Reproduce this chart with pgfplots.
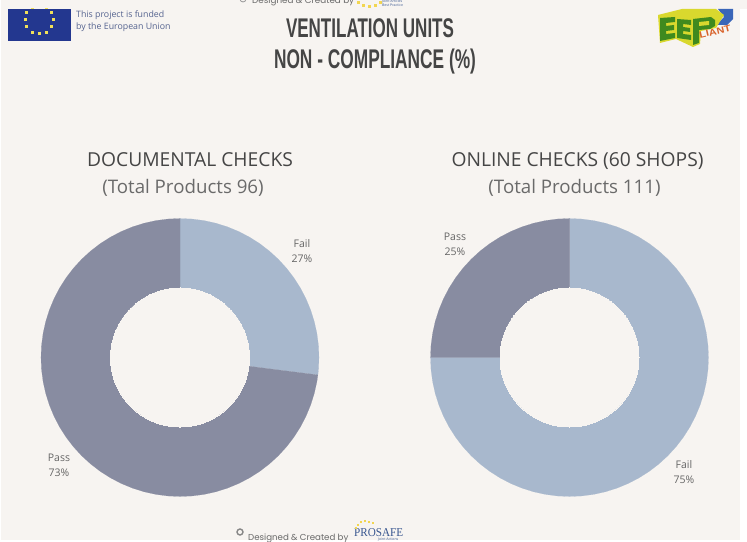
\documentclass[border=0pt]{standalone}
\usepackage{pgfplots}
\pgfplotsset{compat=1.18}
\usepgfplotslibrary{polar}
\usepackage{fontspec}
\usepackage{graphicx}
\setmainfont{Open Sans}
\newfontfamily\titlefont{Liberation Sans}
\newfontfamily\designfont{Poppins}
\newfontfamily\seriffont{Liberation Serif}
\usetikzlibrary{shapes.geometric}
\definecolor{bg}{HTML}{F7F4F1}
\definecolor{failc}{HTML}{A8B8CD}
\definecolor{passc}{HTML}{888CA1}
\definecolor{headc}{HTML}{454545}
\definecolor{subc}{HTML}{6A6A6A}
\definecolor{labc}{HTML}{666666}
\definecolor{euc}{HTML}{23378F}
\definecolor{star}{HTML}{F1E05A}
\definecolor{eutext}{HTML}{55638F}
\definecolor{prosafe}{HTML}{37558F}
\definecolor{logog}{HTML}{3F8A1E}
\definecolor{logoy}{HTML}{D9D82E}
\definecolor{logor}{HTML}{D9622B}
\definecolor{logob}{HTML}{3A66B8}
\newcommand{\px}[2]{({#1pt},{541pt-#2pt})}
\pgfplotsset{donut/.style={
  width=278pt,height=278pt,scale only axis,
  ymin=0,ymax=139,xmin=-180,xmax=180,hide axis,clip=false,anchor=center}}
\begin{document}
\begin{tikzpicture}[x=1pt,y=1pt]
\useasboundingbox (0,0) rectangle (747pt,541pt);
\clip (0,0) rectangle (747pt,541pt);
\fill[white] (0,0) rectangle (747pt,541pt);
\fill[bg] \px{1}{540} rectangle \px{740}{0};
\fill[bg] \px{740}{9} rectangle \px{747}{0};

\begin{polaraxis}[donut,at={(180pt,183.5pt)}]
\addplot[fill=failc,draw=failc,line width=0.1pt] coordinates {(0,0)(90,139)(85,139)(80,139)(75,139)(70,139)(65,139)(60,139)(55,139)(50,139)(45,139)(40,139)(35,139)(30,139)(25,139)(20,139)(15,139)(10,139)(5,139)(0,139)(-5,139)(-7.2,139)(0,0)};
\addplot[fill=passc,draw=passc,line width=0.1pt] coordinates {(0,0)(-7.2,139)(-10,139)(-15,139)(-20,139)(-25,139)(-30,139)(-35,139)(-40,139)(-45,139)(-50,139)(-55,139)(-60,139)(-65,139)(-70,139)(-75,139)(-80,139)(-85,139)(-90,139)(-95,139)(-100,139)(-105,139)(-110,139)(-115,139)(-120,139)(-125,139)(-130,139)(-135,139)(-140,139)(-145,139)(-150,139)(-155,139)(-160,139)(-165,139)(-170,139)(-175,139)(-180,139)(-185,139)(-190,139)(-195,139)(-200,139)(-205,139)(-210,139)(-215,139)(-220,139)(-225,139)(-230,139)(-235,139)(-240,139)(-245,139)(-250,139)(-255,139)(-260,139)(-265,139)(-270,139)(0,0)};
\addplot[only marks,mark=*,mark size=69.5pt,mark options={fill=bg,draw=bg,line width=0pt}] coordinates {(0,0)};
\end{polaraxis}

\begin{polaraxis}[donut,at={(569.5pt,183.5pt)}]
\addplot[fill=failc,draw=failc,line width=0.1pt] coordinates {(0,0)(90,139)(85,139)(80,139)(75,139)(70,139)(65,139)(60,139)(55,139)(50,139)(45,139)(40,139)(35,139)(30,139)(25,139)(20,139)(15,139)(10,139)(5,139)(0,139)(-5,139)(-10,139)(-15,139)(-20,139)(-25,139)(-30,139)(-35,139)(-40,139)(-45,139)(-50,139)(-55,139)(-60,139)(-65,139)(-70,139)(-75,139)(-80,139)(-85,139)(-90,139)(-95,139)(-100,139)(-105,139)(-110,139)(-115,139)(-120,139)(-125,139)(-130,139)(-135,139)(-140,139)(-145,139)(-150,139)(-155,139)(-160,139)(-165,139)(-170,139)(-175,139)(-180,139)(0,0)};
\addplot[fill=passc,draw=passc,line width=0.1pt] coordinates {(0,0)(180,139)(175,139)(170,139)(165,139)(160,139)(155,139)(150,139)(145,139)(140,139)(135,139)(130,139)(125,139)(120,139)(115,139)(110,139)(105,139)(100,139)(95,139)(90,139)(0,0)};
\addplot[only marks,mark=*,mark size=69.5pt,mark options={fill=bg,draw=bg,line width=0pt}] coordinates {(0,0)};
\end{polaraxis}

% Donut labels
\tikzset{lab/.style={inner sep=0pt,text=labc,font=\fontsize{10.5}{12}\selectfont}}
\node[lab] at \px{302}{243.5} {Fail};
\node[lab] at \px{302}{258.5} {27\%};
\node[lab] at \px{59}{457.5} {Pass};
\node[lab] at \px{59}{472.5} {73\%};
\node[lab] at \px{455}{236.5} {Pass};
\node[lab] at \px{455}{251.5} {25\%};
\node[lab] at \px{684}{464.5} {Fail};
\node[lab] at \px{684}{479.5} {75\%};

% Headings
\tikzset{head/.style={inner sep=0pt,text=headc,font=\fontsize{19.25}{22}\selectfont},
         sub/.style={inner sep=0pt,text=subc,font=\fontsize{18.7}{22}\selectfont}}
\node[head,anchor=base] at \px{190}{166.5} {DOCUMENTAL CHECKS};
\node[sub,anchor=base] at \px{183}{193.5} {(Total Products 96)};
\node[head,anchor=base] at \px{577.5}{166.5} {ONLINE CHECKS (60 SHOPS)};
\node[sub,anchor=base] at \px{574.5}{193.5} {(Total Products 111)};

% Main title
\node[inner sep=0pt,anchor=base,text=headc] at \px{370}{37.5}
  {\resizebox{168pt}{\height}{\titlefont\bfseries\fontsize{27}{30}\selectfont VENTILATION UNITS}};
\node[inner sep=0pt,anchor=base,text=headc] at \px{375}{69}
  {\resizebox{202pt}{\height}{\titlefont\bfseries\fontsize{27}{30}\selectfont NON - COMPLIANCE (\%)}};

% EU block
\begin{scope}
\clip \px{8}{9} rectangle \px{71}{41};
\fill[euc] \px{8}{9} rectangle \px{71}{41};
\foreach \a in {0,30,...,330}
  \node[star,star points=5,star point ratio=2.4,minimum size=3pt,inner sep=0pt,fill=star]
    at ({39pt+14pt*cos(\a)},{541pt-20pt+14pt*sin(\a)}) {};
\end{scope}
\node[inner sep=0pt,anchor=base west,text=eutext,font=\fontsize{8.8}{10}\selectfont] at \px{76}{17.5} {This project is funded};
\node[inner sep=0pt,anchor=base west,text=eutext,font=\fontsize{8.8}{10}\selectfont] at \px{76}{29.5} {by the European Union};

% Top credit (cut by the picture's edge)
\draw[subc!70,line width=0.8pt] \px{243}{-1} circle (3pt);
\node[inner sep=0pt,anchor=base west,text=subc,font=\designfont\fontsize{8.8}{10}\selectfont] at \px{252}{4} {Designed \& Created by};
\foreach \x/\y in {358/3,363/6,369/7,375/6,380/3}
  \node[star,star points=5,star point ratio=2.4,minimum size=3pt,inner sep=0pt,fill=star!90!orange] at \px{\x}{\y} {};
\node[inner sep=0pt,anchor=base west,text=prosafe,font=\fontsize{3.5}{4}\selectfont] at \px{382}{2.5} {Joint Articles};
\node[inner sep=0pt,anchor=base west,text=prosafe,font=\fontsize{3.5}{4}\selectfont] at \px{382}{6.5} {Best Practice};

% Bottom credit
\draw[subc!80,line width=1.4pt] \px{240}{532} circle (3pt);
\node[inner sep=0pt,anchor=base west,text=subc,font=\designfont\fontsize{8.65}{10}\selectfont] at \px{248}{540.5} {Designed \& Created by};
\node[inner sep=0pt,anchor=base west,text=prosafe] at \px{354}{536.5}
  {\resizebox{49pt}{\height}{\seriffont\fontsize{12}{14}\selectfont PROSAFE}};
\foreach \x/\y in {356/528,358/525,361/522,365/521,369/522,373/523}
  \node[star,star points=5,star point ratio=2.4,minimum size=2.8pt,inner sep=0pt,fill=star!90!orange] at \px{\x}{\y} {};
\node[inner sep=0pt,anchor=base west,text=prosafe,font=\fontsize{3.5}{4}\selectfont] at \px{378}{540.5} {Joint Actions};

% EEPLIANT logo
\fill[logob] \px{718}{9} -- \px{733}{9} -- \px{733}{19} -- \px{727}{25} -- \px{716}{25} -- \px{724}{17} -- cycle;
\fill[logoy] \px{658}{15} -- \px{682}{9} -- \px{716}{9} -- \px{724}{15} -- \px{716}{28} -- \px{701}{31} -- \px{700}{44} -- \px{693}{47} -- \px{676}{39} -- \px{660}{43} -- cycle;
\fill[logog] \px{660}{18} -- \px{675}{17} -- \px{675}{22} -- \px{666}{23} -- \px{666}{26} -- \px{674}{25} -- \px{674}{30} -- \px{666}{31} -- \px{666}{34} -- \px{675}{33} -- \px{675}{38} -- \px{660}{41} -- cycle;
\fill[logog] \px{677}{19} -- \px{691}{20} -- \px{691}{25} -- \px{683}{24} -- \px{683}{27} -- \px{690}{28} -- \px{690}{32} -- \px{683}{31} -- \px{683}{34} -- \px{691}{35} -- \px{691}{40} -- \px{677}{38} -- cycle;
\fill[logog] \px{693}{19} -- \px{711}{17} -- \px{715}{20} -- \px{715}{26} -- \px{710}{29} -- \px{699}{30} -- \px{699}{43} -- \px{693}{45} -- cycle;
\fill[logoy] \px{699}{22} -- \px{709}{21} -- \px{709}{25} -- \px{699}{26} -- cycle;
\node[inner sep=0pt,anchor=base west,text=logor,rotate=13] at \px{700}{38.5}
  {\resizebox{32pt}{\height}{\titlefont\bfseries\fontsize{9}{10}\selectfont LIANT}};
\end{tikzpicture}
\end{document}
